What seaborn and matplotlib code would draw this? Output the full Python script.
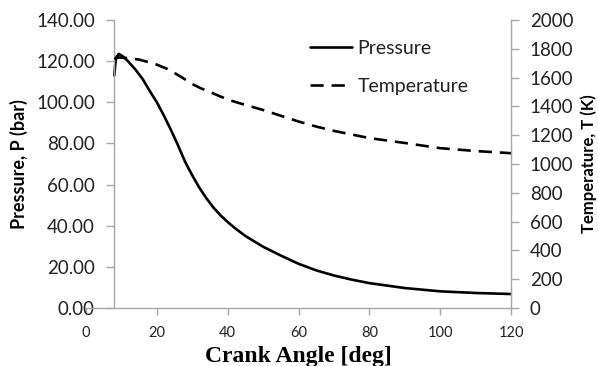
import matplotlib
matplotlib.use("Agg")
import matplotlib.pyplot as plt
import seaborn as sns
import pandas as pd
from matplotlib.lines import Line2D

p_angle = [8, 8.2, 8.55, 9.3, 10.5, 12, 14, 16, 18, 20, 22, 24, 26, 28, 30, 32, 34, 36, 38, 40,
           42, 45, 50, 55, 60, 65, 70, 75, 80, 90, 100, 110, 120]
pressure = [113, 117.4, 122, 123.5, 122.2, 119.7, 115.8, 111.3, 105.5, 100, 93.5, 86.5, 79, 71,
            64.5, 58.5, 53.3, 48.8, 45, 41.8, 38.9, 35, 29.8, 25.5, 21.5, 18.3, 15.8, 13.8, 12.1,
            9.7, 8.1, 7.3, 6.8]

t_angle = [8, 8.5, 9.3, 12, 15, 18, 20, 23, 25, 27.5, 30, 32.5, 35, 38, 41, 45, 50, 55, 60, 65,
           70, 75, 80, 90, 100, 110, 120]
temperature = [1728, 1735, 1740, 1735, 1725, 1705, 1690, 1660, 1632, 1595, 1555, 1525, 1500,
               1468, 1440, 1410, 1375, 1335, 1295, 1260, 1230, 1205, 1180, 1146, 1110, 1090, 1075]

x_ticks = [0, 20, 40, 60, 80, 100, 120]
p_ticks = [0, 20, 40, 60, 80, 100, 120, 140]
t_ticks = [0, 200, 400, 600, 800, 1000, 1200, 1400, 1600, 1800, 2000]

df_p = pd.DataFrame({"angle": p_angle, "pressure": pressure})
df_t = pd.DataFrame({"angle": t_angle, "temperature": temperature})

sns.set_theme(style="white")
plt.rcParams["font.family"] = ["Lato", "DejaVu Sans"]

fig = plt.figure(figsize=(5.98, 3.66), dpi=100)
ax = fig.add_axes([86 / 598, 1 - 308 / 366, (511 - 86) / 598, (308 - 20) / 366])
ax2 = ax.twinx()

spine_col = "#a6a6a6"
txt_col = "#222222"

sns.lineplot(data=df_p, x="angle", y="pressure", ax=ax, color="black", lw=1.9)
sns.lineplot(data=df_t, x="angle", y="temperature", ax=ax2, color="black", lw=1.9)
ax2.lines[0].set_dashes([5, 3])

ax.set_xlim(0, 120)
ax.set_ylim(0, 140)
ax2.set_ylim(0, 2000)

for a in (ax, ax2):
    a.spines["top"].set_visible(False)
    for s in a.spines.values():
        s.set_color(spine_col)
        s.set_linewidth(1.0)
ax.spines["right"].set_visible(False)
ax2.spines["left"].set_visible(False)
ax2.spines["bottom"].set_visible(False)
ax.spines["left"].set_position(("data", 8))

ax.set_xticks(x_ticks)
ax.set_xticklabels([str(v) for v in x_ticks])
ax.set_yticks(p_ticks)
ax.set_yticklabels([f"{v:.2f}" for v in p_ticks])
ax2.set_yticks(t_ticks)
ax2.set_yticklabels([str(v) for v in t_ticks])

ax.tick_params(axis="y", which="both", left=True, length=6, width=1, color=spine_col,
               direction="out", pad=8, labelsize=13.5, labelcolor=txt_col)
ax.tick_params(axis="x", which="both", bottom=True, length=5, width=1, color=spine_col,
               direction="out", pad=8, labelsize=10.5, labelcolor=txt_col)
ax2.tick_params(axis="y", which="both", right=True, length=5.5, width=1, color=spine_col,
                direction="out", pad=8, labelsize=13.5, labelcolor=txt_col)

ax.set_xlabel("Crank Angle [deg]", fontsize=17, fontweight="bold",
              family=["Liberation Serif", "DejaVu Serif"], color="black", labelpad=4)
ax.set_ylabel("Pressure, P (bar)", fontsize=13, fontweight="bold", color="black")
ax.yaxis.set_label_coords(-0.137, 0.5)
ax2.set_ylabel("Temperature, T (K)", fontsize=12, fontweight="bold", color="black")
ax2.yaxis.set_label_coords(1.164, 0.5)

handles = [Line2D([], [], color="black", lw=1.9),
           Line2D([], [], color="black", lw=1.9, dashes=[5, 3])]
leg = ax2.legend(handles, ["Pressure", "Temperature"], loc="center left",
                 bbox_to_anchor=((310 - 86) / 425, (308 - 67.5) / 288),
                 frameon=False, fontsize=14, handlelength=2.15, handletextpad=0.3,
                 labelspacing=1.1, borderaxespad=0, borderpad=0)
for t in leg.get_texts():
    t.set_color(txt_col)

fig.savefig("out.png", dpi=100)
